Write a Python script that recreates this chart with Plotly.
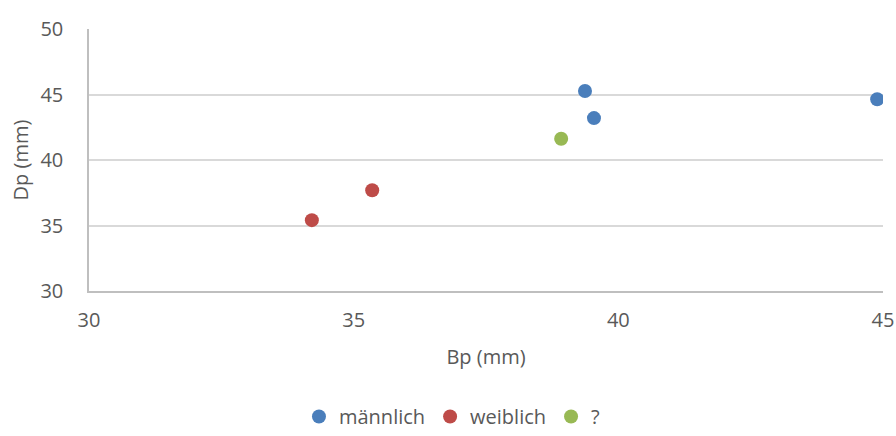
import plotly.graph_objects as go

# Data
male_bp = [39.37, 39.54, 44.89]
male_dp = [45.27, 43.2, 44.64]
female_bp = [34.21, 35.35]
female_dp = [35.41, 37.69]
unknown_bp = [38.92]
unknown_dp = [41.62]
series_names = ["männlich", "weiblich", "?"]
x_ticks = [30, 35, 40, 45]
y_ticks = [30, 35, 40, 45, 50]

colors = ["#4A7EBB", "#BE4B48", "#98B954"]
FONT = "'Open Sans', sans-serif"
GREY = "#595959"

fig = go.Figure()
for name, xs, ys, c in zip(series_names,
                           [male_bp, female_bp, unknown_bp],
                           [male_dp, female_dp, unknown_dp], colors):
    fig.add_trace(go.Scatter(x=xs, y=ys, mode="markers", name=name,
                             marker=dict(color=c, size=14, line=dict(width=0))))

fig.update_layout(
    width=896, height=436,
    margin=dict(l=89, r=13, t=29, b=145),
    plot_bgcolor="white", paper_bgcolor="white",
    font=dict(family=FONT, size=20, color=GREY),
    showlegend=True,
    legend=dict(orientation="h", xref="container", yref="container",
                x=0.505, xanchor="center", y=0.0, yanchor="bottom",
                font=dict(size=20, color=GREY), itemwidth=30,
                tracegroupgap=0),
    xaxis=dict(range=[30, 45], tickvals=x_ticks, showgrid=False,
               showline=True, linecolor="#BFBFBF", linewidth=1.5,
               zeroline=False, ticks="outside", ticklen=10,
               tickcolor="rgba(0,0,0,0)", automargin=False,
               tickfont=dict(size=20, color=GREY),
               title=dict(text="Bp (mm)", font=dict(size=20, color=GREY), standoff=18)),
    yaxis=dict(range=[30, 50], tickvals=y_ticks, showgrid=True,
               gridcolor="#D9D9D9", gridwidth=1.5,
               showline=True, linecolor="#BFBFBF", linewidth=1.5,
               zeroline=False, ticks="outside", ticklen=20,
               tickcolor="rgba(0,0,0,0)", automargin=False,
               tickfont=dict(size=20, color=GREY),
               title=dict(text="Dp (mm)", font=dict(size=20, color=GREY), standoff=6)),
)

fig.write_html("out.html", config={"displayModeBar": False},
               post_script="document.body.style.margin='0';")
